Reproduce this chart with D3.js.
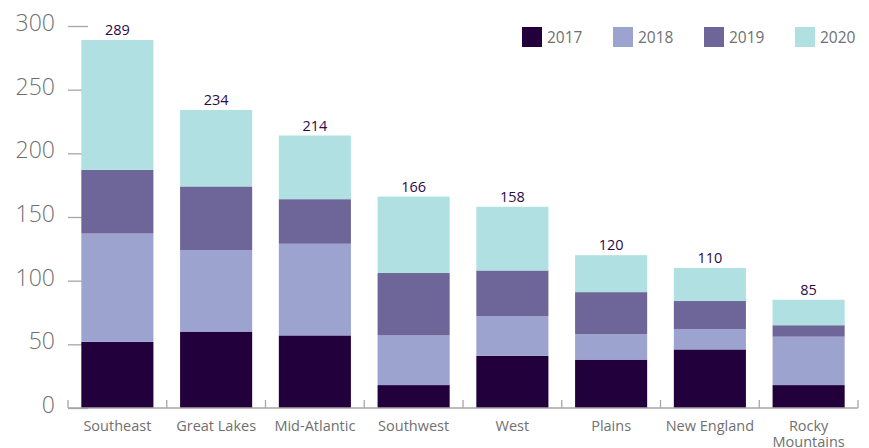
<!DOCTYPE html>
<html>
<head>
<meta charset="utf-8">
<script src="https://cdn.jsdelivr.net/npm/d3@7"></script>
<style>
  body { margin: 0; background: #fff; }
  svg { display: block; font-family: "Open Sans", "Lato", sans-serif; }
</style>
</head>
<body>
<div id="chart"></div>
<script>
// regions along the x axis
var regions = ["Southeast", "Great Lakes", "Mid-Atlantic", "Southwest", "West", "Plains", "New England", "Rocky Mountains"];
var years = ["2017", "2018", "2019", "2020"];
// values per year
var v2017 = [52, 60, 57, 18, 41, 38, 46, 18];
var v2018 = [85, 64, 72, 39, 31, 20, 16, 38];
var v2019 = [50, 50, 35, 49, 36, 33, 22, 9];
var v2020 = [102, 60, 50, 60, 50, 29, 26, 20];
var totals = [289, 234, 214, 166, 158, 120, 110, 85];
var yTicks = [0, 50, 100, 150, 200, 250, 300];

var colors = ["#22003c", "#9da3cf", "#6e6598", "#b0e0e2"];

var width = 869;
var height = 448;
var margin = {left: 68, right: 11, top: 26, bottom: 40};

var svg = d3.select("#chart").append("svg")
    .attr("width", width)
    .attr("height", height);

var x = d3.scaleBand()
    .domain(regions)
    .range([margin.left, width - margin.right])
    .paddingInner(0.27)
    .paddingOuter(0.135);

var y = d3.scaleLinear()
    .domain([0, 300])
    .range([height - margin.bottom, margin.top]);

// table for the stack
var table = regions.map(function (r, i) {
    return {region: r, "2017": v2017[i], "2018": v2018[i], "2019": v2019[i], "2020": v2020[i]};
});
var stacked = d3.stack().keys(years)(table);

// y axis ticks (short grey dashes, drawn under the bars)
var yAxis = svg.append("g")
    .attr("transform", "translate(" + margin.left + ",0)")
    .call(d3.axisRight(y).tickValues(yTicks).tickSize(20).tickFormat(""));
yAxis.select(".domain").remove();
yAxis.selectAll(".tick line").attr("stroke", "#a6a6a6").attr("stroke-width", 1.3);

svg.append("g").selectAll("text")
    .data(yTicks)
    .enter()
    .append("text")
    .attr("x", 55)
    .attr("y", function (d) { return y(d) + 5; })
    .attr("text-anchor", "end")
    .attr("fill", "#707070")
    .style("font-size", "23px")
    .style("font-weight", 300)
    .text(function (d) { return d; });

// bars
svg.append("g").selectAll("g")
    .data(stacked)
    .enter()
    .append("g")
    .attr("fill", function (d, i) { return colors[i]; })
    .selectAll("rect")
    .data(function (d) { return d; })
    .enter()
    .append("rect")
    .attr("x", function (d) { return x(d.data.region); })
    .attr("y", function (d) { return y(d[1]); })
    .attr("height", function (d) { return y(d[0]) - y(d[1]); })
    .attr("width", x.bandwidth());

// x axis: baseline and little ticks between the bands
var xAxis = svg.append("g");
xAxis.append("line")
    .attr("x1", margin.left).attr("x2", width - margin.right)
    .attr("y1", y(0)).attr("y2", y(0))
    .attr("stroke", "#a6a6a6").attr("stroke-width", 1.5);
var edges = regions.map(function (r) { return x(r) - x.step() * x.paddingInner() / 2; });
edges[0] = margin.left;
edges.push(width - margin.right);
xAxis.selectAll(".sep")
    .data(edges)
    .enter()
    .append("line")
    .attr("x1", function (d) { return d; }).attr("x2", function (d) { return d; })
    .attr("y1", y(0) - 8).attr("y2", y(0))
    .attr("stroke", "#a6a6a6").attr("stroke-width", 1.3);

// category labels
svg.append("g").selectAll("text")
    .data(regions)
    .enter()
    .append("text")
    .attr("x", function (d) { return x(d) + x.bandwidth() / 2; })
    .attr("y", 431)
    .attr("text-anchor", "middle")
    .attr("fill", "#707070")
    .style("font-size", "14.5px")
    .each(function (d) {
        var words = d === "Rocky Mountains" ? ["Rocky", "Mountains"] : [d];
        var t = d3.select(this);
        words.forEach(function (w, i) {
            t.append("tspan")
                .attr("x", x(d) + x.bandwidth() / 2)
                .attr("dy", i === 0 ? 0 : 16)
                .text(w);
        });
    });

// total labels
svg.append("g").selectAll("text")
    .data(totals)
    .enter()
    .append("text")
    .attr("x", function (d, i) { return x(regions[i]) + x.bandwidth() / 2; })
    .attr("y", function (d) { return y(d) - 5; })
    .attr("text-anchor", "middle")
    .attr("fill", "#2a0c48")
    .style("font-size", "14.5px")
    .text(function (d) { return d; });

// legend
var legend = svg.append("g").selectAll("g")
    .data(years)
    .enter()
    .append("g")
    .attr("transform", function (d, i) { return "translate(" + (522 + i * 91) + ",27)"; });
legend.append("rect")
    .attr("width", 20).attr("height", 20)
    .attr("fill", function (d, i) { return colors[i]; });
legend.append("text")
    .attr("x", 25).attr("y", 16)
    .attr("fill", "#707070")
    .style("font-size", "15.5px")
    .text(function (d) { return d; });
</script>
</body>
</html>
